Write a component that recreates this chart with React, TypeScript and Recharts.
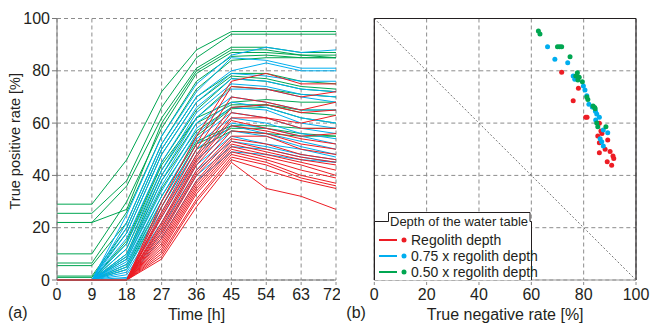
import {
  LineChart,
  Line,
  ScatterChart,
  Scatter,
  XAxis,
  YAxis,
  CartesianGrid,
  ReferenceLine,
  Label,
} from 'recharts';

// time steps [h] of the left panel
const times = [0, 9, 18, 27, 36, 45, 54, 63, 72];
const pctTicks = [0, 20, 40, 60, 80, 100];

// true positive rate [%] of each run, one row per run, one value per time step
const greenRuns = [
  [29, 29, 46, 72, 88, 95, 95, 95, 95],
  [25.5, 25.5, 38, 66, 85, 94, 94, 94, 94],
  [22, 22, 36, 62, 81, 89, 89, 87, 87],
  [22, 22, 27, 60, 80, 88, 88, 86, 85],
  [10, 10, 30, 58, 79, 87, 87, 86, 86],
  [6.5, 6.5, 26, 55, 76, 85.5, 86, 85, 85],
  [5.5, 5.5, 22, 52, 73, 84, 85, 85, 85],
  [1.5, 1.5, 20, 50, 70, 79, 79, 76, 75],
  [1, 1, 18, 48, 68, 78, 77, 74, 73],
  [0, 0, 15, 45, 65, 77, 76, 73, 72],
  [0, 0, 14, 44, 62, 74, 73, 71, 70],
  [0, 0, 12, 42, 62, 68, 69, 68, 68],
  [0, 0, 10, 40, 60, 67, 67, 65, 65],
  [0, 0, 9, 38, 57, 66, 67, 64, 63],
  [0, 0, 8, 35, 55, 65.5, 66, 62, 60],
  [0, 0, 6, 32, 53, 59, 59, 58, 58],
  [0, 0, 5, 30, 52, 58, 58, 56, 55],
  [0, 0, 4, 28, 50, 57, 56, 55, 55],
];

const blueRuns = [
  [0, 0, 25, 55, 75, 86, 89, 87, 88],
  [0, 0, 22, 52, 72, 85, 84, 81, 81],
  [0, 0, 20, 50, 70, 80, 83, 80, 80],
  [0, 0, 18, 48, 68, 79, 78, 76, 76],
  [0, 0, 16, 45, 66, 77, 76, 73, 72],
  [0, 0, 14, 42, 64, 75, 74, 71, 70],
  [0, 0, 12, 40, 62, 73, 73, 70, 68],
  [0, 0, 10, 38, 60, 70, 68, 65, 65],
  [0, 0, 9, 36, 58, 68, 66, 62, 60],
  [0, 0, 8, 34, 56, 66, 65, 60, 58],
  [0, 0, 7, 32, 54, 64, 62, 58, 56],
  [0, 0, 6, 30, 52, 62, 60, 56, 54],
  [0, 0, 5, 28, 50, 60, 58, 55, 52],
  [0, 0, 4, 26, 48, 59, 56, 53, 50],
  [0, 0, 3, 24, 46, 57, 55, 51, 48],
  [0, 0, 2, 22, 44, 55, 52, 50, 47],
  [0, 0, 1, 20, 42, 53, 51, 48, 46],
  [0, 0, 0.5, 18, 40, 51, 50, 47, 45],
  [0, 0, 0, 16, 38, 49, 48, 46, 45],
];

const redRuns = [
  [0, 0, 0, 30, 55, 76, 79, 75, 75],
  [0, 0, 0, 28, 52, 74, 73, 70, 72],
  [0, 0, 0, 26, 50, 70, 68, 65, 68],
  [0, 0, 0, 25, 48, 66, 67, 64, 65],
  [0, 0, 0, 24, 47, 64, 62, 60, 63],
  [0, 0, 0, 22, 46, 62, 62, 58, 58],
  [0, 0, 0, 21, 45, 61, 58, 55, 56],
  [0, 0, 0, 20, 44, 59, 57, 54, 52],
  [0, 0, 0, 19, 42, 57, 56, 52, 50],
  [0, 0, 0, 18, 41, 55, 55, 50, 48],
  [0, 0, 0, 17, 40, 54, 52, 48, 46],
  [0, 0, 0, 16, 38, 53, 50, 47, 45],
  [0, 0, 0, 15, 37, 52, 49, 46, 44],
  [0, 0, 0, 14, 36, 51, 48, 45, 42],
  [0, 0, 0, 13, 35, 50, 47, 44, 40],
  [0, 0, 0, 12, 34, 49, 46, 42, 39],
  [0, 0, 0, 11, 33, 48, 45, 40, 37],
  [0, 0, 0, 10, 31, 47, 44, 39, 36],
  [0, 0, 0, 9, 30, 46, 42, 38, 35],
  [0, 0, 0, 8, 28, 45, 35, 32, 27],
];

// [true negative rate, true positive rate] in %
const redPoints = [
  [71.6, 79.4], [78, 73.3], [76, 68.5], [80.8, 62.2], [81.3, 62.2], [86, 59.9],
  [86.6, 57], [87, 56], [85.4, 55.1], [89.2, 53.5], [86, 52.5], [88.2, 50],
  [86, 48.7], [90.1, 49.1], [91.2, 47.4], [91.5, 46.5], [89, 45.2], [90.7, 43.9],
];
const bluePoints = [
  [66.2, 89.2], [69, 84.4], [73.9, 83.1], [76, 78], [76.6, 76.8], [79.9, 74.2],
  [80.5, 72.7], [81.2, 70.5], [82, 67.2], [83.3, 66.2], [84.5, 64.5], [85, 63.5],
  [86, 62.2], [84.6, 61.2], [87.5, 57.4], [89.2, 56.3], [86.9, 52.9], [87.5, 51.2],
  [86.3, 54],
];
const greenPoints = [
  [62.7, 95.2], [63.3, 94.1], [70, 89.2], [70.8, 89.2], [71.6, 89.2], [74.8, 85.4],
  [77.6, 79.3], [77, 78], [78.3, 77.5], [77.8, 76.5], [79.5, 75.8], [81.2, 70],
  [81.6, 69], [83.6, 66.5], [84.2, 66], [84.4, 65.5], [85.4, 58.6], [88.5, 58.6],
  [85, 60],
];

const legendTitle = 'Depth of the water table';

const groups = [
  { key: 'g', name: '0.50 x regolith depth', color: '#00A651', runs: greenRuns, points: greenPoints },
  { key: 'b', name: '0.75 x regolith depth', color: '#00AEEF', runs: blueRuns, points: bluePoints },
  { key: 'r', name: 'Regolith depth', color: '#ED1C24', runs: redRuns, points: redPoints },
];

const FONT = '"Liberation Sans", Arial, sans-serif';
const TEXT = '#231F20';
const GRID = '#8c8c8c';

const lineData = times.map((t, i) => {
  const row: Record<string, number> = { t };
  groups.forEach((g) => g.runs.forEach((run, j) => (row[`${g.key}${j}`] = run[i])));
  return row;
});

const tickStyle = { fontSize: 16, fill: TEXT, fontFamily: FONT };

const AxisTitle = ({ viewBox, value }: any) => (
  <text
    x={viewBox.x + viewBox.width / 2}
    y={viewBox.y + 40}
    textAnchor="middle"
    fontSize={16}
    fontFamily={FONT}
    fill={TEXT}
  >
    {value}
  </text>
);

const PanelTag = ({ viewBox, value, dx }: any) => (
  <text x={viewBox.x + dx} y={viewBox.y + 38} fontSize={16} fontFamily={FONT} fill={TEXT}>
    {value}
  </text>
);

const YTitle = ({ viewBox }: any) => {
  const x = viewBox.x + 20;
  const y = viewBox.y + viewBox.height / 2 - 8;
  return (
    <text
      x={x}
      y={y}
      transform={`rotate(-90, ${x}, ${y})`}
      textAnchor="middle"
      fontSize={14.5}
      fontFamily={FONT}
      fill={TEXT}
    >
      True positive rate [%]
    </text>
  );
};

const Dot = ({ cx, cy, fill }: any) => <circle cx={cx} cy={cy} r={2.5} fill={fill} />;

function LegendBox() {
  const legendOrder = [...groups].reverse();
  return (
    <svg
      width={650}
      height={325}
      style={{ position: 'absolute', left: 0, top: 0, pointerEvents: 'none' }}
    >
      <path
        d="M374.5,280 V221.5 H388.5 V212.5 H530 V221.5 H531.5 V280"
        fill="#fff"
        stroke="#231F20"
        strokeWidth={1}
      />
      <text x={390} y={226} fontSize={13} fontFamily={FONT} fill={TEXT}>
        {legendTitle}
      </text>
      {legendOrder.map((g, i) => {
        const y = 240 + i * 16;
        return (
          <g key={g.key}>
            <line x1={379} x2={397} y1={y} y2={y} stroke={g.color} strokeWidth={2} />
            <circle cx={404} cy={y} r={2.5} fill={g.color} />
            <text x={411} y={y + 5} fontSize={14} fontFamily={FONT} fill={TEXT}>
              {g.name}
            </text>
          </g>
        );
      })}
    </svg>
  );
}

export default function App() {
  return (
    <div style={{ position: 'absolute', left: 0, top: 0, width: 650, height: 325, background: '#fff' }}>
      <div style={{ position: 'absolute', left: 0, top: 0 }}>
        <LineChart width={340} height={325} data={lineData} margin={{ top: 18.5, right: 4, left: 0, bottom: 0 }}>
          <CartesianGrid stroke={GRID} strokeDasharray="4 3" />
          <XAxis
            dataKey="t"
            type="number"
            domain={[0, 72]}
            ticks={times}
            height={45}
            tick={tickStyle}
            tickSize={5}
            tickMargin={4}
            tickLine={{ stroke: GRID, strokeDasharray: '3 2' }}
            axisLine={{ stroke: '#777' }}
          >
            <Label content={<AxisTitle value="Time [h]" />} />
            <Label content={<PanelTag value="(a)" dx={-49} />} />
          </XAxis>
          <YAxis
            type="number"
            domain={[0, 100]}
            ticks={pctTicks}
            width={57}
            tick={tickStyle}
            tickSize={5}
            tickMargin={2}
            tickLine={{ stroke: '#777' }}
            axisLine={{ stroke: '#777' }}
          >
            <Label content={<YTitle />} />
          </YAxis>
          {groups.map((g) =>
            g.runs.map((_, j) => (
              <Line
                key={`${g.key}${j}`}
                dataKey={`${g.key}${j}`}
                stroke={g.color}
                strokeWidth={1}
                dot={false}
                type="linear"
                isAnimationActive={false}
              />
            ))
          )}
        </LineChart>
      </div>
      <div style={{ position: 'absolute', left: 340, top: 0 }}>
        <ScatterChart width={310} height={325} margin={{ top: 18.5, right: 14, left: 34.3, bottom: 0 }}>
          <CartesianGrid stroke={GRID} strokeDasharray="4 3" />
          <XAxis
            dataKey="x"
            type="number"
            domain={[0, 100]}
            ticks={pctTicks}
            height={45}
            tick={tickStyle}
            tickSize={5}
            tickMargin={4}
            tickLine={{ stroke: GRID, strokeDasharray: '3 2' }}
            axisLine={{ stroke: '#999' }}
          >
            <Label content={<AxisTitle value="True negative rate [%]" />} />
            <Label content={<PanelTag value="(b)" dx={-28} />} />
          </XAxis>
          <YAxis dataKey="y" type="number" domain={[0, 100]} ticks={pctTicks} hide />
          <ReferenceLine
            segment={[
              { x: 0, y: 100 },
              { x: 100, y: 0 },
            ]}
            stroke="#777"
            strokeDasharray="2 2"
          />
          <ReferenceLine y={100} stroke="#231F20" strokeWidth={1.2} />
          <ReferenceLine x={0} stroke="#231F20" strokeWidth={1.2} />
          <ReferenceLine x={100} stroke="#231F20" strokeWidth={1.2} />
          {[...groups].reverse().map((g) => (
            <Scatter
              key={g.key}
              data={g.points.map(([x, y]) => ({ x, y }))}
              fill={g.color}
              shape={<Dot />}
              isAnimationActive={false}
            />
          ))}
        </ScatterChart>
      </div>
      <LegendBox />
    </div>
  );
}
